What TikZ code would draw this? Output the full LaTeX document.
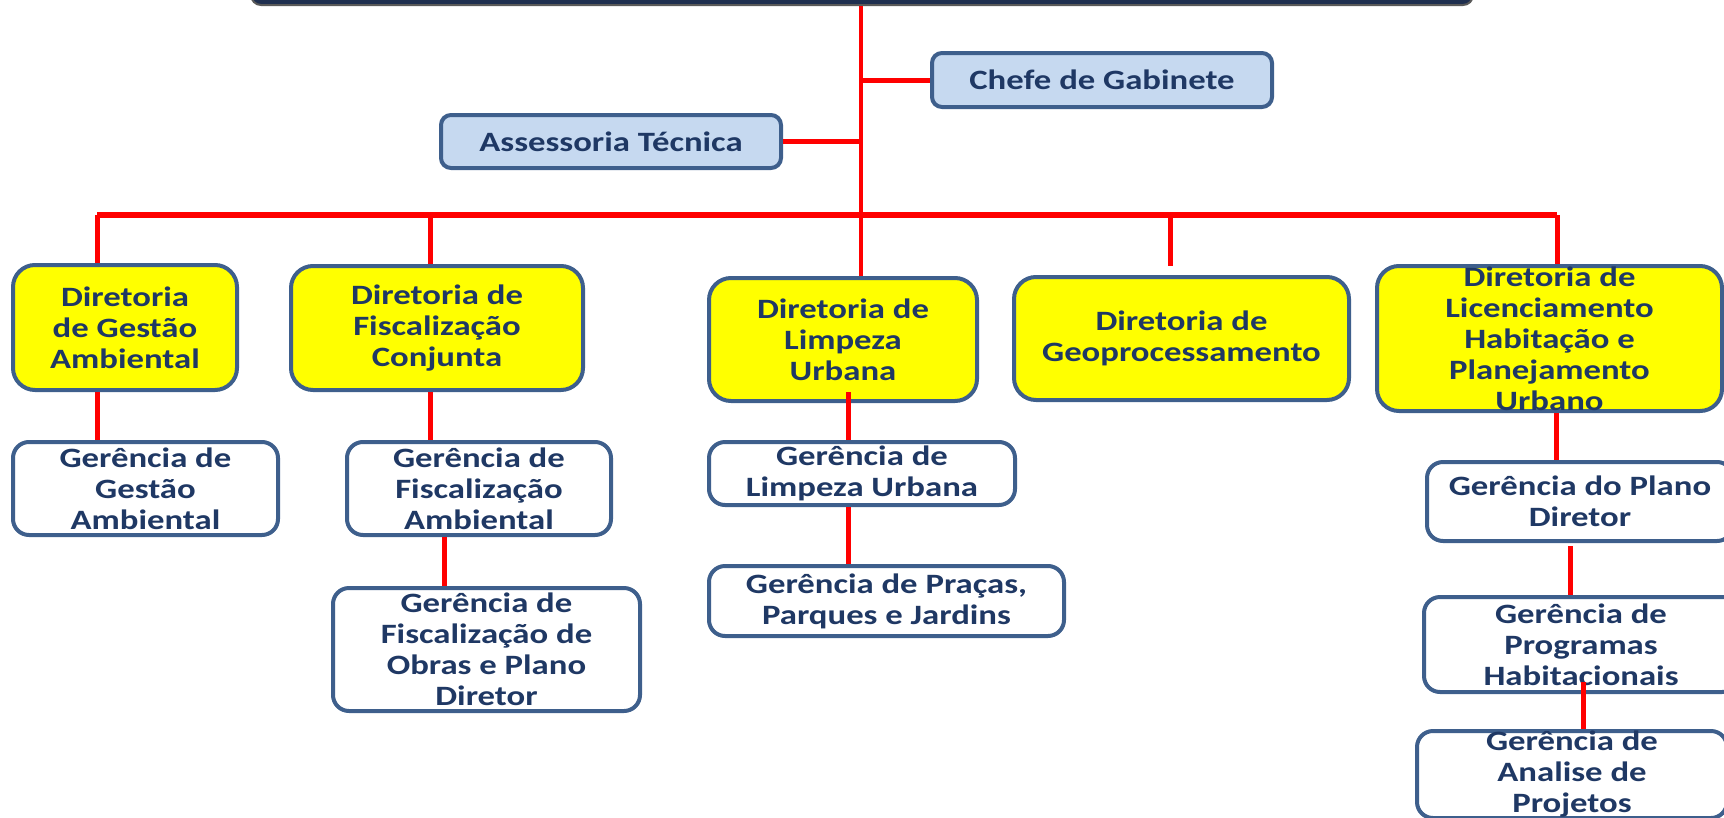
\documentclass[tikz,border=0pt]{standalone}
\usepackage{fontspec}
\setmainfont{Carlito}[FakeStretch=1.24]
\definecolor{borda}{HTML}{3E5F8C}
\definecolor{texto}{HTML}{1F3864}
\definecolor{azulclaro}{HTML}{C6D9F0}
\definecolor{marinho}{HTML}{1F2F4F}
\definecolor{amarelo}{RGB}{255,255,0}
\definecolor{vermelho}{RGB}{255,0,0}

\begin{document}
\begin{tikzpicture}[x=1pt,y=-1pt,
    caixa/.style={draw=borda,line width=4pt,text=texto,align=center,inner sep=0pt,
      font=\fontsize{28}{31}\selectfont\bfseries},
    diretoria/.style={caixa,fill=amarelo,rounded corners=22pt},
    gerencia/.style={caixa,fill=white,rounded corners=16pt},
    apoio/.style={caixa,fill=azulclaro,rounded corners=10pt},
    ligacao/.style={draw=vermelho,line width=5pt}]
  \useasboundingbox (0,0) rectangle (1724,817);
  \clip (0,0) rectangle (1724,817);
  % topo
  \node[fill=marinho,draw=gray!70!black,line width=2pt,rounded corners=10pt,
    minimum width=1222pt,minimum height=50pt] (secretaria) at (862,-20) {};
  \node[apoio,minimum width=340pt,minimum height=54pt] (chefe) at (1102,80) {Chefe de Gabinete};
  \node[apoio,minimum width=340pt,minimum height=53pt] (assessoria) at (611,141.5) {Assessoria Técnica};
  % diretorias
  \node[diretoria,minimum width=224pt,minimum height=125pt] (dirGestao) at (125,327.5)
    {Diretoria\\de Gestão\\Ambiental};
  \node[diretoria,minimum width=292pt,minimum height=124pt] (dirFiscal) at (437,328)
    {Diretoria de\\Fiscalização\\Conjunta};
  \node[diretoria,minimum width=268pt,minimum height=123pt] (dirLimpeza) at (843,339.5)
    {Diretoria de\\Limpeza\\Urbana};
  \node[diretoria,minimum width=335pt,minimum height=123pt] (dirGeo) at (1181.5,338.5)
    {Diretoria de\\Geoprocessamento};
  \node[diretoria,minimum width=345pt,minimum height=145pt] (dirLic) at (1549.5,338.5)
    {Diretoria de\\Licenciamento\\Habitação e\\Planejamento\\Urbano};
  % gerencias
  \node[gerencia,minimum width=265pt,minimum height=93pt] (gerGestao) at (145.5,488.5)
    {Gerência de\\Gestão\\Ambiental};
  \node[gerencia,minimum width=264pt,minimum height=93pt] (gerFiscal) at (479,488.5)
    {Gerência de\\Fiscalização\\Ambiental};
  \node[gerencia,minimum width=307pt,minimum height=123pt] (gerObras) at (486.5,649.5)
    {Gerência de\\Fiscalização de\\Obras e Plano\\Diretor};
  \node[gerencia,minimum width=306pt,minimum height=63pt] (gerLimpeza) at (862,473.5)
    {Gerência de\\Limpeza Urbana};
  \node[gerencia,minimum width=355pt,minimum height=70pt] (gerPracas) at (886.5,601)
    {Gerência de Praças,\\Parques e Jardins};
  \node[gerencia,minimum width=306pt,minimum height=79pt] (gerPlano) at (1580,501.5)
    {Gerência do Plano\\Diretor};
  \node[gerencia,minimum width=314pt,minimum height=95pt] (gerProgramas) at (1581,644.5)
    {Gerência de\\Programas\\Habitacionais};
  \node[gerencia,minimum width=310pt,minimum height=87pt] (gerAnalise) at (1572,774.5)
    {Gerência de\\Analise de\\Projetos};
  % pontos das ligacoes
  \coordinate (tronco) at (861,0);
  \coordinate (barraA) at (97,215);
  \coordinate (barraB) at (430,215);
  \coordinate (barraD) at (1170,215);
  \coordinate (pontaD) at (1170,266);
  \coordinate (barraE) at (1557,215);
  \coordinate (xBC) at (444,0);
  \coordinate (xCD) at (848,392);
  \coordinate (xEF) at (1556,0);
  \coordinate (xFG) at (1570,546);
  \coordinate (xGH) at (1583,682);
  % ligacoes
  \draw[ligacao,line width=4pt] (tronco |- secretaria.south) -- (tronco |- dirLimpeza.north);
  \draw[ligacao] (tronco |- chefe.west) -- (chefe.west);
  \draw[ligacao] (assessoria.east) -- (tronco |- assessoria.east);
  \draw[ligacao,line width=6pt] (barraA) -- (barraE);
  \draw[ligacao] (barraA) -- (barraA |- dirGestao.north);
  \draw[ligacao] (barraB) -- (barraB |- dirFiscal.north);
  \draw[ligacao] (barraD) -- (pontaD);
  \draw[ligacao] (barraE) -- (barraE |- dirLic.north);
  \draw[ligacao] (barraA |- dirGestao.south) -- (barraA |- gerGestao.north);
  \draw[ligacao] (barraB |- dirFiscal.south) -- (barraB |- gerFiscal.north);
  \draw[ligacao] (xBC |- gerFiscal.south) -- (xBC |- gerObras.north);
  \draw[ligacao] (xCD) -- (xCD |- gerLimpeza.north);
  \draw[ligacao] (xCD |- gerLimpeza.south) -- (xCD |- gerPracas.north);
  \draw[ligacao] (xEF |- dirLic.south) -- (xEF |- gerPlano.north);
  \draw[ligacao] (xFG) -- (xFG |- gerProgramas.north);
  \draw[ligacao] (xGH) -- (xGH |- gerAnalise.north);
\end{tikzpicture}
\end{document}
